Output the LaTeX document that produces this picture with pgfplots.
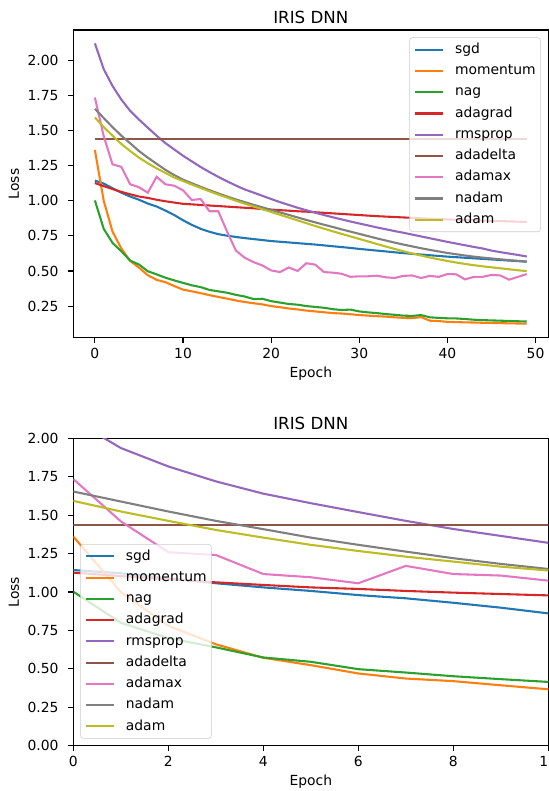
\documentclass[border=0pt]{standalone}
\usepackage{fontspec}
\setmainfont{DejaVu Sans}
\usepackage{pgfplots}
\usepackage{pgfplotstable}
\pgfplotsset{compat=1.18}

\definecolor{cSgd}{HTML}{1F77B4}
\definecolor{cMom}{HTML}{FF7F0E}
\definecolor{cNag}{HTML}{2CA02C}
\definecolor{cAdg}{HTML}{D62728}
\definecolor{cRms}{HTML}{9467BD}
\definecolor{cAdd}{HTML}{8C564B}
\definecolor{cAmx}{HTML}{E377C2}
\definecolor{cNad}{HTML}{7F7F7F}
\definecolor{cAdm}{HTML}{BCBD22}

\pgfplotstableread{
epoch sgd momentum nag adagrad rmsprop adadelta adamax nadam adam
0 1.143 1.361 1.002 1.126 2.120 1.437 1.735 1.654 1.593
1 1.122 1.000 0.800 1.104 1.937 1.437 1.460 1.589 1.524
2 1.089 0.780 0.700 1.083 1.817 1.437 1.259 1.524 1.463
3 1.057 0.660 0.640 1.063 1.720 1.437 1.241 1.463 1.404
4 1.030 0.572 0.574 1.046 1.640 1.437 1.117 1.409 1.354
5 1.007 0.524 0.546 1.030 1.578 1.437 1.096 1.354 1.307
6 0.980 0.470 0.498 1.020 1.520 1.437 1.057 1.307 1.267
7 0.959 0.437 0.476 1.007 1.463 1.437 1.170 1.263 1.230
8 0.930 0.420 0.452 0.996 1.410 1.437 1.117 1.220 1.198
9 0.898 0.393 0.433 0.987 1.365 1.437 1.107 1.183 1.165
10 0.861 0.367 0.415 0.978 1.320 1.437 1.074 1.150 1.140
11 0.828 0.355 0.398 0.974 1.280 1.437 1.005 1.124 1.115
12 0.800 0.342 0.385 0.970 1.240 1.437 1.012 1.099 1.091
13 0.779 0.328 0.365 0.966 1.204 1.437 0.925 1.075 1.067
14 0.762 0.315 0.355 0.962 1.170 1.437 0.925 1.052 1.044
15 0.751 0.303 0.345 0.958 1.138 1.437 0.780 1.030 1.022
16 0.742 0.290 0.330 0.954 1.108 1.437 0.645 1.009 1.000
17 0.734 0.279 0.318 0.950 1.080 1.437 0.594 0.990 0.979
18 0.727 0.270 0.300 0.946 1.058 1.437 0.563 0.971 0.959
19 0.720 0.262 0.302 0.941 1.035 1.437 0.539 0.953 0.940
20 0.713 0.250 0.285 0.937 1.012 1.437 0.504 0.935 0.920
21 0.708 0.242 0.275 0.933 0.990 1.437 0.492 0.917 0.900
22 0.703 0.233 0.265 0.929 0.970 1.437 0.525 0.899 0.880
23 0.698 0.226 0.260 0.925 0.950 1.437 0.500 0.881 0.860
24 0.693 0.218 0.250 0.922 0.932 1.437 0.555 0.863 0.840
25 0.688 0.212 0.244 0.918 0.915 1.437 0.545 0.846 0.820
26 0.682 0.206 0.238 0.914 0.898 1.437 0.492 0.829 0.801
27 0.676 0.200 0.228 0.910 0.882 1.437 0.488 0.813 0.782
28 0.670 0.197 0.222 0.906 0.867 1.437 0.480 0.796 0.764
29 0.664 0.192 0.225 0.902 0.852 1.437 0.458 0.780 0.746
30 0.657 0.186 0.212 0.898 0.838 1.437 0.462 0.764 0.728
31 0.651 0.182 0.205 0.894 0.824 1.437 0.462 0.748 0.710
32 0.645 0.178 0.200 0.890 0.810 1.437 0.466 0.732 0.692
33 0.639 0.175 0.193 0.887 0.797 1.437 0.455 0.717 0.674
34 0.633 0.170 0.188 0.884 0.784 1.437 0.450 0.702 0.657
35 0.627 0.166 0.182 0.881 0.772 1.437 0.465 0.688 0.640
36 0.622 0.164 0.180 0.878 0.759 1.437 0.468 0.675 0.625
37 0.617 0.172 0.186 0.875 0.746 1.437 0.450 0.662 0.610
38 0.612 0.146 0.170 0.872 0.733 1.437 0.465 0.650 0.596
39 0.607 0.143 0.166 0.869 0.720 1.437 0.458 0.639 0.583
40 0.602 0.138 0.163 0.867 0.707 1.437 0.478 0.628 0.571
41 0.598 0.136 0.162 0.865 0.695 1.437 0.476 0.619 0.560
42 0.594 0.134 0.158 0.863 0.683 1.437 0.440 0.610 0.550
43 0.590 0.133 0.153 0.861 0.671 1.437 0.458 0.602 0.541
44 0.586 0.131 0.150 0.859 0.660 1.437 0.458 0.595 0.533
45 0.582 0.130 0.148 0.857 0.645 1.437 0.472 0.589 0.526
46 0.578 0.129 0.146 0.855 0.634 1.437 0.468 0.583 0.519
47 0.574 0.127 0.144 0.853 0.624 1.437 0.438 0.577 0.512
48 0.570 0.126 0.142 0.851 0.614 1.437 0.458 0.572 0.505
49 0.566 0.125 0.140 0.849 0.603 1.437 0.478 0.567 0.499
}\losses

\pgfplotsset{
  irisbase/.style={
    scale only axis,
    width=342pt,
    tick align=outside,
    tick pos=left,
    major tick length=3.5pt,
    tick style={line width=0.8pt, black},
    axis line style={line width=0.8pt},
    ticklabel style={font=\fontsize{10}{12}\selectfont},
    xticklabel style={anchor=north, inner sep=0pt, yshift=-4.2pt},
    yticklabel style={anchor=east, inner sep=0pt, xshift=-7pt,
      /pgf/number format/fixed, /pgf/number format/fixed zerofill,
      /pgf/number format/precision=2},
    scaled y ticks=false,
    /pgf/number format/assume math mode=true,
    label style={font=\fontsize{10}{12}\selectfont},
    xlabel=Epoch,
    ylabel=Loss,
    title=IRIS DNN,
    xlabel style={at={(axis description cs:0.5,-0.1157)}, anchor=center},
    ylabel style={at={(axis description cs:-0.1248,0.5)}, anchor=center},
    legend cell align=left,
    legend image code/.code={\draw[##1] (0pt,0pt) -- (20pt,0pt); \path[draw=none,fill=none] (0pt,0pt) -- (28.5pt,0pt);},
    legend style={draw=black!20, fill=white, fill opacity=0.8, text opacity=1, draw opacity=1,
      rounded corners=2pt, font=\fontsize{10}{12}\selectfont,
      inner xsep=3.4pt, inner ysep=1pt, row sep=0pt, column sep=0pt,
      nodes={inner xsep=0pt, inner ysep=2.75pt, text height=7.5pt, text depth=2.3pt}},
    every axis plot/.append style={line width=1.5pt},
    ytick={0,0.25,0.5,0.75,1.0,1.25,1.5,1.75,2.0},
  },
}

\begin{document}
\begin{tikzpicture}
\useasboundingbox (-52.78pt,-32.62pt) rectangle (342.5pt,536.9pt);
\clip (-52.78pt,-32.62pt) rectangle (342.5pt,536.9pt);

\begin{axis}[irisbase,
  at={(0pt,293.76pt)}, anchor=south west,
  height=221.5pt,
  xmin=-2.45, xmax=51.45, ymin=0.025, ymax=2.215,
  xtick={0,10,20,30,40,50},
  title style={at={(axis description cs:0.5,1.013)}, anchor=center, font=\fontsize{12}{14}\selectfont},
  legend style={at={(0.984,0.976)}, anchor=north east},
]
\addplot[cSgd] table[x=epoch,y=sgd]{\losses};
\addplot[cMom] table[x=epoch,y=momentum]{\losses};
\addplot[cNag] table[x=epoch,y=nag]{\losses};
\addplot[cAdg] table[x=epoch,y=adagrad]{\losses};
\addplot[cRms] table[x=epoch,y=rmsprop]{\losses};
\addplot[cAdd] table[x=epoch,y=adadelta]{\losses};
\addplot[cAmx] table[x=epoch,y=adamax]{\losses};
\addplot[cNad] table[x=epoch,y=nadam]{\losses};
\addplot[cAdm] table[x=epoch,y=adam]{\losses};
\legend{sgd,momentum,nag,adagrad,rmsprop,adadelta,adamax,nadam,adam}
\end{axis}

\begin{axis}[irisbase,
  at={(0pt,0pt)}, anchor=south west,
  height=221.3pt,
  xmin=0, xmax=10, ymin=0, ymax=2,
  xtick={0,2,4,6,8,10},
  title style={at={(axis description cs:0.5,1.021)}, anchor=center, font=\fontsize{12}{14}\selectfont},
  legend style={at={(0.0147,0.0228)}, anchor=south west},
]
\addplot[cSgd] table[x=epoch,y=sgd]{\losses};
\addplot[cMom] table[x=epoch,y=momentum]{\losses};
\addplot[cNag] table[x=epoch,y=nag]{\losses};
\addplot[cAdg] table[x=epoch,y=adagrad]{\losses};
\addplot[cRms] table[x=epoch,y=rmsprop]{\losses};
\addplot[cAdd] table[x=epoch,y=adadelta]{\losses};
\addplot[cAmx] table[x=epoch,y=adamax]{\losses};
\addplot[cNad] table[x=epoch,y=nadam]{\losses};
\addplot[cAdm] table[x=epoch,y=adam]{\losses};
\legend{sgd,momentum,nag,adagrad,rmsprop,adadelta,adamax,nadam,adam}
\end{axis}
\end{tikzpicture}
\end{document}
